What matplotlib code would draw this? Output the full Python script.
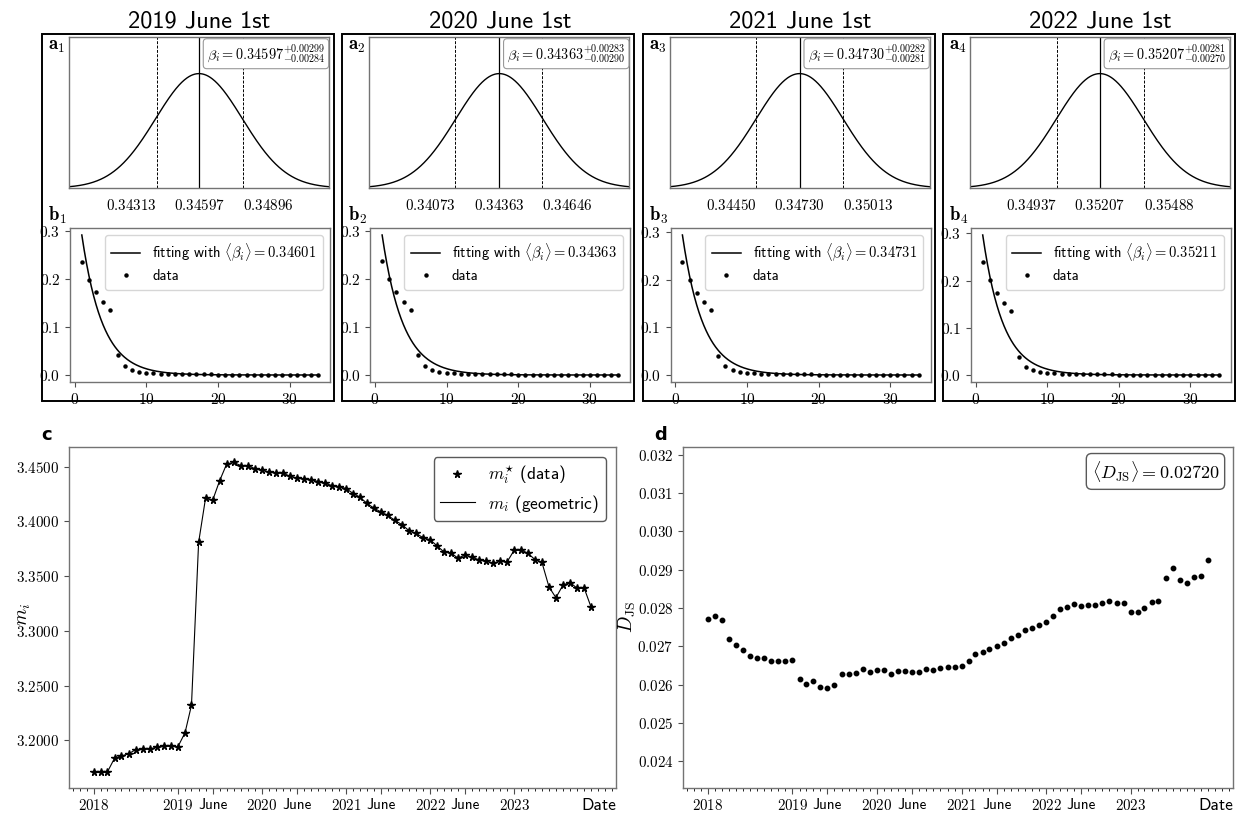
import numpy as np
import pandas as pd
import matplotlib
matplotlib.use("Agg")
import matplotlib.pyplot as plt
import matplotlib.dates as mdates
from matplotlib.patches import Rectangle
from matplotlib.ticker import FixedLocator, FuncFormatter

plt.rcParams["mathtext.fontset"] = "cm"
plt.rcParams["font.family"] = ["cmss10", "DejaVu Sans"]
plt.rcParams["axes.unicode_minus"] = False
plt.rcParams["axes.edgecolor"] = "0.45"
plt.rcParams["axes.linewidth"] = 1.0

# ---------------- data ----------------
snapshot_titles = ["2019 June 1st", "2020 June 1st", "2021 June 1st", "2022 June 1st"]
beta_center = [0.34597, 0.34363, 0.34730, 0.35207]
beta_err_plus = ["0.00299", "0.00283", "0.00282", "0.00281"]
beta_err_minus = ["0.00284", "0.00290", "0.00281", "0.00270"]
beta_low = [0.34313, 0.34073, 0.34450, 0.34937]
beta_high = [0.34896, 0.34646, 0.35013, 0.35488]
beta_fit = [0.34601, 0.34363, 0.34731, 0.35211]

rank = np.arange(1, 35)
share_2019 = [0.2364, 0.1990, 0.1729, 0.1524, 0.1355, 0.0423, 0.0198, 0.0106, 0.0064,
              0.0045, 0.0036, 0.0030, 0.0025, 0.0021, 0.0018, 0.0016, 0.0014, 0.0012,
              0.0011, 0.0010, 0.0009, 0.0008, 0.0007, 0.0006, 0.0006, 0.0005, 0.0005,
              0.0004, 0.0004, 0.0003, 0.0003, 0.0003, 0.0002, 0.0002]
share_2020 = [0.2378, 0.1995, 0.1725, 0.1520, 0.1352, 0.0420, 0.0196, 0.0105, 0.0064,
              0.0045, 0.0036, 0.0030, 0.0025, 0.0021, 0.0018, 0.0016, 0.0014, 0.0012,
              0.0011, 0.0010, 0.0009, 0.0008, 0.0007, 0.0006, 0.0006, 0.0005, 0.0005,
              0.0004, 0.0004, 0.0003, 0.0003, 0.0003, 0.0002, 0.0002]
share_2021 = [0.2370, 0.2000, 0.1722, 0.1520, 0.1352, 0.0400, 0.0190, 0.0104, 0.0063,
              0.0044, 0.0036, 0.0030, 0.0025, 0.0021, 0.0018, 0.0016, 0.0014, 0.0012,
              0.0011, 0.0010, 0.0009, 0.0008, 0.0007, 0.0006, 0.0006, 0.0005, 0.0005,
              0.0004, 0.0004, 0.0003, 0.0003, 0.0003, 0.0002, 0.0002]
share_2022 = [0.2400, 0.2010, 0.1728, 0.1525, 0.1355, 0.0385, 0.0180, 0.0100, 0.0062,
              0.0044, 0.0035, 0.0029, 0.0024, 0.0020, 0.0018, 0.0016, 0.0014, 0.0012,
              0.0011, 0.0010, 0.0009, 0.0008, 0.0007, 0.0006, 0.0006, 0.0005, 0.0005,
              0.0004, 0.0004, 0.0003, 0.0003, 0.0003, 0.0002, 0.0002]
share_by_year = [share_2019, share_2020, share_2021, share_2022]

months = pd.date_range("2018-01-01", periods=72, freq="MS")
m_star = [3.1707, 3.1707, 3.1713, 3.1838, 3.1857, 3.1878, 3.1915, 3.1924, 3.1921, 3.1939,
          3.1945, 3.1948, 3.1942, 3.2070, 3.2321, 3.3807, 3.4210, 3.4192, 3.4369, 3.4524,
          3.4537, 3.4509, 3.4506, 3.4482, 3.4466, 3.4451, 3.4445, 3.4442, 3.4411, 3.4393,
          3.4390, 3.4381, 3.4363, 3.4347, 3.4326, 3.4317, 3.4299, 3.4253, 3.4222, 3.4164,
          3.4121, 3.4085, 3.4054, 3.4008, 3.3969, 3.3914, 3.3890, 3.3850, 3.3831, 3.3774,
          3.3722, 3.3713, 3.3664, 3.3691, 3.3673, 3.3648, 3.3636, 3.3618, 3.3636, 3.3630,
          3.3737, 3.3737, 3.3709, 3.3651, 3.3627, 3.3401, 3.3303, 3.3419, 3.3441, 3.3389,
          3.3389, 3.3215]
d_js = [0.027717, 0.027786, 0.027691, 0.027187, 0.027031, 0.026909, 0.026752, 0.026692,
        0.026683, 0.026613, 0.026613, 0.026613, 0.026648, 0.026153, 0.026014, 0.026083,
        0.025944, 0.025910, 0.025997, 0.026266, 0.026274, 0.026300, 0.026396, 0.026335,
        0.026379, 0.026370, 0.026274, 0.026344, 0.026344, 0.026327, 0.026318, 0.026396,
        0.026379, 0.026422, 0.026457, 0.026448, 0.026492, 0.026622, 0.026787, 0.026857,
        0.026935, 0.026996, 0.027091, 0.027204, 0.027291, 0.027413, 0.027465, 0.027560,
        0.027639, 0.027795, 0.027969, 0.028030, 0.028099, 0.028038, 0.028064, 0.028082,
        0.028134, 0.028169, 0.028125, 0.028125, 0.027899, 0.027891, 0.027986, 0.028151,
        0.028186, 0.028777, 0.029037, 0.028716, 0.028655, 0.028803, 0.028846, 0.029255]
d_js_mean = 0.02720

date_ticks = ["2018-01-01", "2019-01-01", "2019-06-01", "2020-01-01", "2020-06-01",
              "2021-01-01", "2021-06-01", "2022-01-01", "2022-06-01", "2023-01-01"]
date_tick_labels = ["2018", "2019", "June", "2020", "June", "2021", "June", "2022", "June", "2023"]

# ---------------- layout helpers ----------------
W, H = 1236, 817
fig = plt.figure(figsize=(W / 100, H / 100), dpi=100)


def px_axes(x0, y0, x1, y1):
    return fig.add_axes([x0 / W, 1 - y1 / H, (x1 - x0) / W, (y1 - y0) / H])


def fig_text(x, y, s, **kw):
    fig.text(x / W, 1 - y / H, s, **kw)


# ---------------- top row: posterior of beta and rank distribution ----------------
col_step = 300.3
for k in range(4):
    dx = k * col_step
    fig.add_artist(Rectangle(((42 + dx) / W, 1 - 401 / H), 292 / W, 367 / H,
                             transform=fig.transFigure, fill=False,
                             edgecolor="black", linewidth=1.4))
    fig_text(199.5 + dx, 27, snapshot_titles[k], ha="center", va="baseline",
             fontsize=17.5, family="cmss10")

    # posterior of beta
    c = beta_center[k]
    lo, hi = beta_low[k], beta_high[k]
    sig = (hi - lo) / 2
    ax = px_axes(69 + dx, 37, 329 + dx, 188)
    xs = np.linspace(c - 3 * sig, c + 3 * sig, 400)
    ax.plot(xs, np.exp(-0.5 * ((xs - c) / sig) ** 2), color="black", lw=1.0)
    ax.axvline(c, color="black", lw=0.9)
    ax.axvline(lo, color="black", lw=0.7, ls=(0, (3, 1.5)))
    ax.axvline(hi, color="black", lw=0.7, ls=(0, (3, 1.5)))
    ax.set_xlim(c - 3 * sig, c + 3 * sig)
    ax.set_ylim(0, 1.32)
    ax.set_xticks([lo, c, hi])
    ax.set_xticklabels([r"$%.5f$" % v for v in (lo, c, hi)])
    for lab, ha in zip(ax.get_xticklabels(), ["right", "center", "left"]):
        lab.set_horizontalalignment(ha)
    ax.tick_params(axis="x", length=0, pad=7, labelsize=10.8)
    ax.set_yticks([])
    ax.text(0.985, 0.965,
            r"$\beta_i = %.5f^{+%s}_{-%s}$" % (c, beta_err_plus[k], beta_err_minus[k]),
            transform=ax.transAxes, ha="right", va="top", fontsize=10.3,
            bbox=dict(boxstyle="round,pad=0.25", fc="white", ec="0.6", lw=0.8))
    fig_text(48 + dx, 50, r"$\mathbf{a}_%d$" % (k + 1), ha="left", va="baseline",
             fontsize=13.5)

    # rank distribution and geometric fit
    ax = px_axes(70 + dx, 228, 330 + dx, 382)
    q = np.exp(-beta_fit[k])
    kk = np.linspace(1, 34, 400)
    ax.plot(kk, (1 - q) * q ** (kk - 1), color="black", lw=1.1,
            label=r"fitting with $\langle\beta_i\rangle = %.5f$" % beta_fit[k])
    ax.plot(rank, share_by_year[k], "o", color="black", ms=2.2, ls="none", label="data")
    ax.set_xticks([0, 10, 20, 30])
    ax.set_yticks([0.0, 0.1, 0.2, 0.3])
    ax.xaxis.set_major_formatter(FuncFormatter(lambda v, p: r"$%d$" % v))
    ax.yaxis.set_major_formatter(FuncFormatter(lambda v, p: r"$%.1f$" % v))
    ax.tick_params(labelsize=11, length=3.5, color="0.3")
    ax.legend(loc="upper right", handlelength=2.0, borderaxespad=0.5,
              labelspacing=0.35, handletextpad=0.8, borderpad=0.45,
              prop={"family": "cmss10", "size": 10.5})
    fig_text(48 + dx, 221, r"$\mathbf{b}_%d$" % (k + 1), ha="left", va="baseline",
             fontsize=13.5)


def date_axis(ax):
    ax.xaxis.set_major_locator(FixedLocator(mdates.date2num(pd.to_datetime(date_ticks))))
    ax.xaxis.set_minor_locator(mdates.MonthLocator())
    ax.set_xticklabels([lab if lab == "June" else r"$%s$" % lab for lab in date_tick_labels])
    for lab in ax.get_xticklabels():
        if lab.get_text() == "June":
            lab.set_fontsize(11.5)
    ax.tick_params(axis="x", which="major", length=4.5, pad=2.5, labelsize=10.8)
    ax.tick_params(axis="x", which="minor", length=2.2)
    ax.tick_params(axis="both", color="0.3")
    ax.text(1.0, -0.03, "Date", transform=ax.transAxes, ha="right", va="top",
            fontsize=12.5, family="cmss10")


# ---------------- panel c ----------------
ax = px_axes(69, 447, 616, 788)
ax.plot(months, m_star, color="black", lw=0.8, label=r"$m_i$ (geometric)")
ax.plot(months, m_star, "*", color="black", ms=5.5, ls="none", label=r"$m_i^{\star}$ (data)")
date_axis(ax)
ax.set_yticks([3.20, 3.25, 3.30, 3.35, 3.40, 3.45])
ax.yaxis.set_major_formatter(FuncFormatter(lambda v, p: r"$%.4f$" % v))
ax.tick_params(axis="y", labelsize=10.8, length=3.5)
ax.set_ylabel(r"$m_i$", fontsize=14)
ax.yaxis.set_label_coords(-0.066, 0.51)
h, l = ax.get_legend_handles_labels()
ax.legend([h[1], h[0]], [l[1], l[0]], loc="upper right",
          prop={"family": "cmss10", "size": 12.5}, handlelength=2.0,
          borderaxespad=0.6, framealpha=1, edgecolor="0.35",
          labelspacing=0.35, borderpad=0.35)
fig_text(41, 440, "c", ha="left", va="baseline", fontsize=13, family="DejaVu Sans",
         weight="bold")

# ---------------- panel d ----------------
ax = px_axes(683, 447, 1233, 788)
ax.plot(months, d_js, "o", color="black", ms=3.2, ls="none")
date_axis(ax)
ax.set_ylim(0.0233, 0.0322)
ax.set_yticks(np.arange(0.024, 0.0325, 0.001))
ax.yaxis.set_major_formatter(FuncFormatter(lambda v, p: r"$%.3f$" % v))
ax.tick_params(axis="y", labelsize=10.8, length=3.5)
ax.set_ylabel(r"$D_{\rm JS}$", fontsize=14)
ax.yaxis.set_label_coords(-0.082, 0.5)
ax.text(0.975, 0.965, r"$\langle D_{\rm JS}\rangle = %.5f$" % d_js_mean,
        transform=ax.transAxes, ha="right", va="top", fontsize=13,
        bbox=dict(boxstyle="round,pad=0.3", fc="white", ec="0.35", lw=1.0))
fig_text(654, 440, "d", ha="left", va="baseline", fontsize=13, family="DejaVu Sans",
         weight="bold")

fig.savefig("out.png", dpi=100)
